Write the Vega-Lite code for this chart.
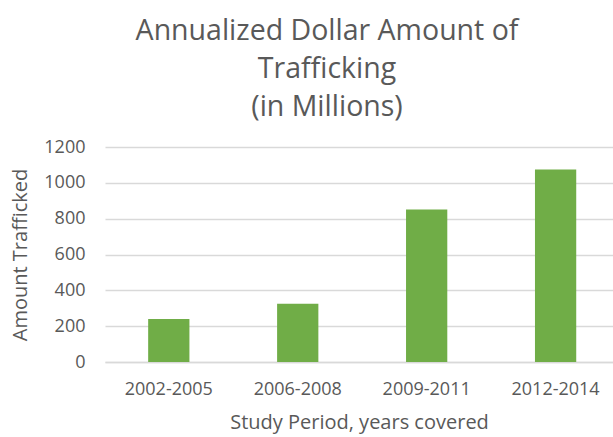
{
  "$schema": "https://vega.github.io/schema/vega-lite/v6.json",
  "autosize": "none",
  "width": 508,
  "height": 215,
  "padding": {"left": 105, "top": 147, "right": 0, "bottom": 75},
  "background": "white",
  "title": {
    "text": ["Annualized Dollar Amount of", "Trafficking", "(in Millions)"],
    "font": "Open Sans",
    "fontSize": 28.5,
    "fontWeight": "normal",
    "color": "#595959",
    "lineHeight": 38,
    "anchor": "middle",
    "frame": "group",
    "dx": -32,
    "offset": 17
  },
  "data": {
    "values": [
      {"period": "2002-2005", "amount": 240},
      {"period": "2006-2008", "amount": 325},
      {"period": "2009-2011", "amount": 851},
      {"period": "2012-2014", "amount": 1074}
    ]
  },
  "mark": {"type": "bar", "color": "#70AD47"},
  "encoding": {
    "x": {
      "field": "period",
      "type": "nominal",
      "sort": null,
      "scale": {"paddingInner": 0.68, "paddingOuter": 0.31, "align": 0.54},
      "axis": {
        "title": "Study Period, years covered",
        "labelAngle": 0,
        "labelFont": "Open Sans",
        "labelFontSize": 18,
        "labelColor": "#595959",
        "labelPadding": 18,
        "ticks": false,
        "domain": true,
        "domainColor": "#D9D9D9",
        "domainWidth": 1.5,
        "titleFont": "Open Sans",
        "titleFontSize": 20,
        "titleFontWeight": "normal",
        "titleColor": "#595959",
        "titlePadding": 14
      }
    },
    "y": {
      "field": "amount",
      "type": "quantitative",
      "scale": {"domain": [0, 1200]},
      "axis": {
        "title": "Amount Trafficked",
        "values": [0, 200, 400, 600, 800, 1000, 1200],
        "format": "d",
        "labelFont": "Open Sans",
        "labelFontSize": 18,
        "labelColor": "#595959",
        "labelPadding": 20,
        "ticks": false,
        "domain": false,
        "grid": true,
        "gridColor": "#D9D9D9",
        "gridWidth": 1.5,
        "titleFont": "Open Sans",
        "titleFontSize": 20,
        "titleFontWeight": "normal",
        "titleColor": "#595959",
        "titlePadding": 13
      }
    }
  },
  "config": {"view": {"stroke": null}}
}
